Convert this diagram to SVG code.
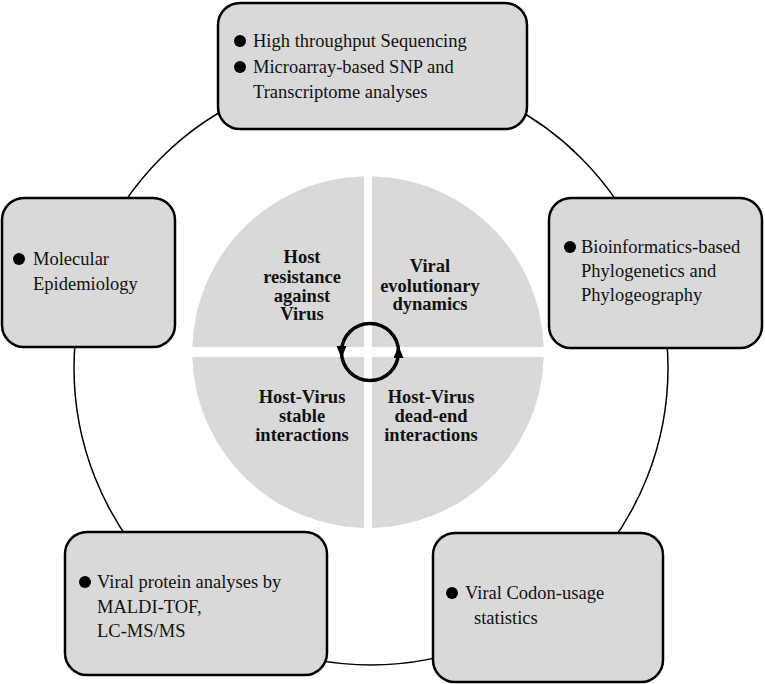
<svg xmlns="http://www.w3.org/2000/svg" width="765" height="684" viewBox="0 0 765 684">
<style>
.box{fill:#d9d9d9;stroke:#000;stroke-width:2.5}
.q{fill:#d9d9d9}
.t{font-family:"Liberation Serif","Times New Roman",serif;font-size:18.5px;fill:#111}
.c{font-family:"Liberation Serif","Times New Roman",serif;font-size:18.5px;font-weight:bold;fill:#111;text-anchor:middle}
.b{fill:#000}
.ring{fill:none;stroke:#000;stroke-width:1.5}
.cyc{fill:none;stroke:#000;stroke-width:3.5}
</style>
<defs>
<marker id="ah" markerUnits="userSpaceOnUse" markerWidth="14" markerHeight="12" refX="6" refY="5" orient="auto">
<path d="M0,0 L12,5 L0,10 z" fill="#000"/>
</marker>
</defs>
<rect width="765" height="684" fill="#fff"/>
<g id="connectors">
<circle class="ring" cx="371" cy="368" r="297"/>
</g>
<g id="q-host-resistance">
<path class="q" d="M364,347 L364,176.2 A176,176 0 0,0 192.3,347 Z"/>
<text class="c" x="302" y="263">Host</text>
<text class="c" x="302" y="283">resistance</text>
<text class="c" x="302" y="302">against</text>
<text class="c" x="302" y="320">Virus</text>
</g>
<g id="q-viral-evolution">
<path class="q" d="M372,347 L543.7,347 A176,176 0 0,0 372,176.2 Z"/>
<text class="c" x="430" y="272">Viral</text>
<text class="c" x="430" y="292">evolutionary</text>
<text class="c" x="430" y="310">dynamics</text>
</g>
<g id="q-stable">
<path class="q" d="M364,357 L192.2,357 A176,176 0 0,0 364,527.9 Z"/>
<text class="c" x="302" y="403">Host-Virus</text>
<text class="c" x="302" y="422">stable</text>
<text class="c" x="302" y="441">interactions</text>
</g>
<g id="q-dead-end">
<path class="q" d="M372,357 L372,527.9 A176,176 0 0,0 543.8,357 Z"/>
<text class="c" x="431" y="403">Host-Virus</text>
<text class="c" x="431" y="422">dead-end</text>
<text class="c" x="431" y="441">interactions</text>
</g>
<g id="cycle">
<path class="cyc" d="M398.5,352 A28.5,28.5 0 0,0 341.5,352" marker-end="url(#ah)"/>
<path class="cyc" d="M341.5,352 A28.5,28.5 0 0,0 398.5,352" marker-end="url(#ah)"/>
</g>
<g id="box-sequencing">
<rect class="box" x="218" y="3" width="309" height="126" rx="22"/>
<circle class="b" cx="240" cy="41" r="6"/>
<text class="t" x="253" y="47">High throughput Sequencing</text>
<circle class="b" cx="240" cy="67" r="6"/>
<text class="t" x="253" y="73">Microarray-based SNP and</text>
<text class="t" x="253" y="98">Transcriptome analyses</text>
</g>
<g id="box-epidemiology">
<rect class="box" x="2" y="198" width="173" height="149" rx="22"/>
<circle class="b" cx="19" cy="259" r="6"/>
<text class="t" x="33" y="265">Molecular</text>
<text class="t" x="33" y="290">Epidemiology</text>
</g>
<g id="box-phylogenetics">
<rect class="box" x="549" y="198" width="213" height="150" rx="22"/>
<circle class="b" cx="570" cy="247" r="6"/>
<text class="t" x="581" y="253">Bioinformatics-based</text>
<text class="t" x="581" y="277">Phylogenetics and</text>
<text class="t" x="581" y="301">Phylogeography</text>
</g>
<g id="box-protein">
<rect class="box" x="65" y="532" width="262" height="143" rx="22"/>
<circle class="b" cx="85" cy="582" r="6"/>
<text class="t" x="97" y="588">Viral protein analyses by</text>
<text class="t" x="97" y="613">MALDI-TOF,</text>
<text class="t" x="97" y="637">LC-MS/MS</text>
</g>
<g id="box-codon">
<rect class="box" x="433" y="533" width="230" height="149" rx="22"/>
<circle class="b" cx="452" cy="593" r="6"/>
<text class="t" x="465" y="599">Viral Codon-usage</text>
<text class="t" x="474" y="624">statistics</text>
</g>
</svg>
